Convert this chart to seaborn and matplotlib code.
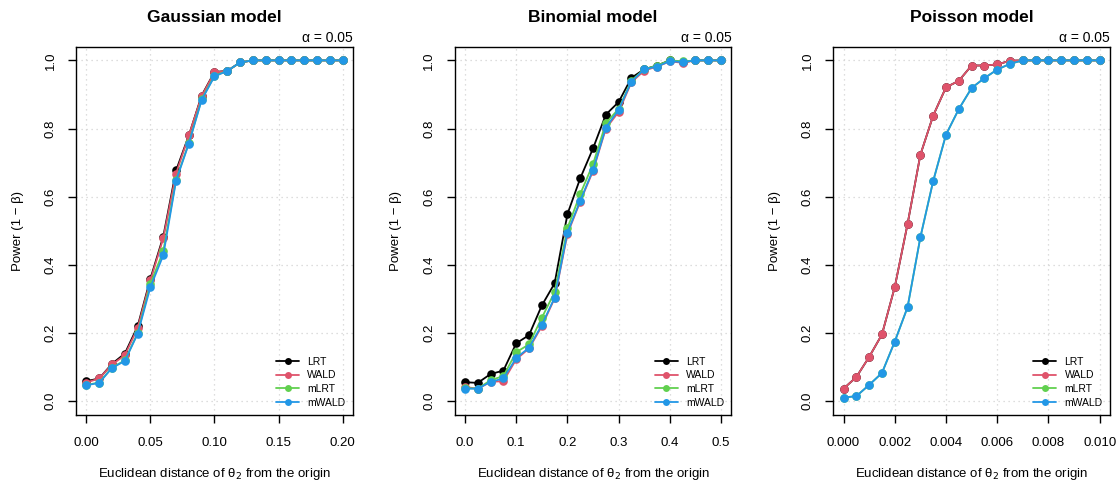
import numpy as np
import pandas as pd
import matplotlib
matplotlib.use("Agg")
import matplotlib.pyplot as plt
from matplotlib.lines import Line2D
import seaborn as sns

# ---- data -------------------------------------------------------------
tests = ["LRT", "WALD", "mLRT", "mWALD"]
colors = ["#000000", "#DF536B", "#61D04F", "#2297E6"]

gauss_x = [round(0.01 * i, 3) for i in range(21)]
gauss_lrt = [0.059, 0.067, 0.110, 0.140, 0.220, 0.360, 0.483, 0.677, 0.780, 0.897, 0.966,
             0.969, 0.994, 1.0, 1.0, 1.0, 1.0, 1.0, 1.0, 1.0, 1.0]
gauss_wald = [0.055, 0.067, 0.108, 0.135, 0.215, 0.355, 0.478, 0.668, 0.780, 0.895, 0.965,
              0.969, 0.994, 1.0, 1.0, 1.0, 1.0, 1.0, 1.0, 1.0, 1.0]
gauss_mlrt = [0.048, 0.055, 0.099, 0.120, 0.200, 0.345, 0.440, 0.650, 0.758, 0.886, 0.955,
              0.969, 0.994, 1.0, 1.0, 1.0, 1.0, 1.0, 1.0, 1.0, 1.0]
gauss_mwald = [0.047, 0.054, 0.098, 0.118, 0.198, 0.335, 0.428, 0.647, 0.756, 0.884, 0.953,
               0.969, 0.994, 1.0, 1.0, 1.0, 1.0, 1.0, 1.0, 1.0, 1.0]

binom_x = [round(0.025 * i, 4) for i in range(21)]
binom_lrt = [0.056, 0.054, 0.080, 0.090, 0.170, 0.194, 0.281, 0.346, 0.549, 0.654, 0.742,
             0.841, 0.878, 0.949, 0.974, 0.985, 1.0, 0.995, 1.0, 1.0, 1.0]
binom_wald = [0.042, 0.037, 0.057, 0.059, 0.123, 0.155, 0.220, 0.302, 0.491, 0.586, 0.676,
              0.800, 0.849, 0.936, 0.970, 0.982, 0.997, 0.993, 1.0, 1.0, 1.0]
binom_mlrt = [0.039, 0.037, 0.062, 0.074, 0.144, 0.167, 0.245, 0.320, 0.508, 0.608, 0.696,
              0.816, 0.858, 0.941, 0.974, 0.985, 1.0, 0.997, 1.0, 1.0, 1.0]
binom_mwald = [0.037, 0.037, 0.057, 0.067, 0.127, 0.157, 0.224, 0.304, 0.495, 0.588, 0.679,
               0.803, 0.855, 0.938, 0.974, 0.982, 0.998, 0.995, 1.0, 1.0, 1.0]

pois_x = [round(0.0005 * i, 5) for i in range(21)]
pois_lrt = [0.037, 0.071, 0.130, 0.196, 0.335, 0.520, 0.723, 0.838, 0.921, 0.940, 0.985,
            0.985, 0.988, 0.999, 1.0, 1.0, 1.0, 1.0, 1.0, 1.0, 1.0]
pois_wald = list(pois_lrt)
pois_mlrt = [0.011, 0.015, 0.048, 0.083, 0.175, 0.276, 0.481, 0.646, 0.782, 0.857, 0.919,
             0.948, 0.973, 0.990, 1.0, 1.0, 1.0, 1.0, 1.0, 1.0, 1.0]
pois_mwald = list(pois_mlrt)

panels = [
    ("Gaussian model", gauss_x, [gauss_lrt, gauss_wald, gauss_mlrt, gauss_mwald],
     [0.0, 0.05, 0.10, 0.15, 0.20], ["0.00", "0.05", "0.10", "0.15", "0.20"]),
    ("Binomial model", binom_x, [binom_lrt, binom_wald, binom_mlrt, binom_mwald],
     [0.0, 0.1, 0.2, 0.3, 0.4, 0.5], ["0.0", "0.1", "0.2", "0.3", "0.4", "0.5"]),
    ("Poisson model", pois_x, [pois_lrt, pois_wald, pois_mlrt, pois_mwald],
     [0.0, 0.002, 0.004, 0.006, 0.008, 0.010],
     ["0.000", "0.002", "0.004", "0.006", "0.008", "0.010"]),
]
y_ticks = [0.0, 0.2, 0.4, 0.6, 0.8, 1.0]
y_labels = ["0.0", "0.2", "0.4", "0.6", "0.8", "1.0"]

# ---- figure -----------------------------------------------------------
sns.set_theme(style="white")
plt.rcParams["font.family"] = ["Liberation Sans", "DejaVu Sans"]
plt.rcParams["text.color"] = "black"
plt.rcParams["axes.labelcolor"] = "black"
plt.rcParams["xtick.color"] = "black"
plt.rcParams["ytick.color"] = "black"

fig = plt.figure(figsize=(11.2, 4.87), dpi=100)
lefts = [0.068, 0.406, 0.744]
width, bottom, height = 0.247, 0.148, 0.756

for left, (title, xs, series, xt, xtl) in zip(lefts, panels):
    ax = fig.add_axes([left, bottom, width, height])
    frames = [pd.DataFrame({"x": xs, "power": vals, "test": name})
              for name, vals in zip(tests, series)]
    df = pd.concat(frames, ignore_index=True)
    for name, col in zip(tests, colors):
        sub = df[df["test"] == name]
        sns.lineplot(data=sub, x="x", y="power", ax=ax, color=col, linewidth=1.3,
                     marker="o", markersize=6.2, markeredgewidth=0, legend=False,
                     zorder=3)

    span = xt[-1] - xt[0]
    ax.set_xlim(xt[0] - 0.04 * span, xt[-1] + 0.04 * span)
    ax.set_ylim(-0.04, 1.04)
    ax.set_xticks(xt)
    ax.set_xticklabels(xtl, fontsize=9.5)
    ax.set_yticks(y_ticks)
    ax.set_yticklabels(y_labels, fontsize=9.5, rotation=90, va="center")
    ax.grid(True, color="#d3d3d3", linestyle=(0, (1, 3)), linewidth=0.9)
    for sp in ax.spines.values():
        sp.set_visible(True)
        sp.set_color("black")
        sp.set_linewidth(1.0)
    ax.tick_params(axis="both", direction="out", length=6, width=1.0,
                   colors="black", bottom=True, left=True)
    ax.tick_params(axis="x", pad=10)
    ax.tick_params(axis="y", pad=8)
    ax.set_xlabel("Euclidean distance of θ$_2$ from the origin", fontsize=9.5,
                  labelpad=12, color="black")
    ax.set_ylabel("Power (1 − β)", fontsize=9.5, labelpad=15, color="black")
    ax.set_title(title, fontsize=12.5, fontweight="bold", pad=18, color="black")
    ax.text(1.0, 1.004, "α = 0.05", transform=ax.transAxes, ha="right",
            va="bottom", fontsize=10, color="black")

    handles = [Line2D([0], [0], color=c, linewidth=1.3, marker="o", markersize=5,
                      markeredgewidth=0) for c in colors]
    ax.legend(handles, tests, loc="lower right", frameon=False, fontsize=7.5,
              handlelength=2.2, handletextpad=0.8, labelspacing=0.35,
              borderaxespad=0.3, bbox_to_anchor=(1.0, 0.0))

fig.savefig("out.png", dpi=100)
